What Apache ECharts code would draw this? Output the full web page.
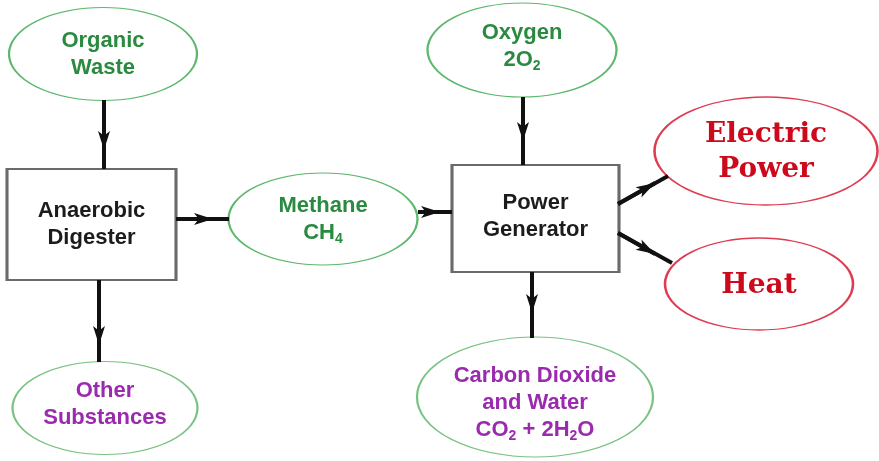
<!DOCTYPE html>
<html>
<head>
<meta charset="UTF-8">
<title>Anaerobic Digester</title>
<style>
  * { margin: 0; padding: 0; }
  html, body { width: 100%; height: 100%; background: #fff; }
  #chart { width: 879px; height: 461px; }
</style>
<script src="https://cdn.jsdelivr.net/npm/echarts@6/dist/echarts.min.js"></script>
</head>
<body>
<div id="chart"></div>
<script>
// diagram content
var nodeNames = ['Organic Waste', 'Anaerobic Digester', 'Other Substances', 'Methane', 'Oxygen',
  'Power Generator', 'Carbon Dioxide and Water', 'Electric Power', 'Heat'];
var nodeText = ['Organic\nWaste', 'Anaerobic\nDigester', 'Other\nSubstances', 'Methane\nCH{s|4}', 'Oxygen\n2O{s|2}',
  'Power\nGenerator', 'Carbon Dioxide\nand Water\nCO{s|2} + 2H{s|2}O', 'Electric\nPower', 'Heat'];
var nodeKind = ['input', 'process', 'byproduct', 'input', 'input', 'process', 'byproduct', 'output', 'output'];
var linkFrom = ['Organic Waste', 'Anaerobic Digester', 'Anaerobic Digester', 'Methane', 'Oxygen',
  'Power Generator', 'Power Generator', 'Power Generator'];
var linkTo = ['Anaerobic Digester', 'Other Substances', 'Methane', 'Power Generator', 'Power Generator',
  'Carbon Dioxide and Water', 'Electric Power', 'Heat'];

// layout (diagram units = pixels of the 879x461 canvas)
var nodeX = [103, 91.5, 105, 323, 522, 535.5, 535, 766, 759];
var nodeY = [54, 224.5, 408, 219, 50, 218.5, 397, 151, 284];
var nodeW = [188, 169, 185, 189, 189, 167, 236, 223, 188];
var nodeH = [93, 111, 93, 92, 94, 107, 120, 108, 92];
var labelDy = [0, 0, -4, 0, -4, -2, 6, 1, 2];
var arrowStart = [[104, 100], [99, 280], [176, 219], [418, 212], [523, 97], [532, 272], [618, 204], [618, 233]];
var arrowEnd = [[104, 169], [99, 362], [229, 219], [452, 212], [523, 165], [532, 338], [668, 176], [672, 263]];
var arrowHead = [[104, 150], [99, 345], [213, 219], [440, 212], [523, 141], [532, 313], [655, 183], [655, 254]];

var ellipse = 'path://M0,50A100,50 0 1,1 200,50A100,50 0 1,1 0,50Z';
var sans = '"Liberation Sans", Arial, sans-serif';
var kindStyle = {
  input: { symbol: ellipse, border: '#5cb86c', bw: 1.6, color: '#2a8a40', font: sans, size: 22 },
  byproduct: { symbol: ellipse, border: '#78c282', bw: 1.6, color: '#9a2aae', font: sans, size: 22 },
  process: { symbol: 'rect', border: '#6a6a6a', bw: 2.5, color: '#1c1c1c', font: sans, size: 22 },
  output: { symbol: ellipse, border: '#de3c52', bw: 1.8, color: '#cc0a1c', font: '"DejaVu Serif", "Liberation Serif", serif', size: 28 }
};

var nodes = nodeNames.map(function (name, i) {
  var k = kindStyle[nodeKind[i]];
  return {
    name: name,
    value: [nodeX[i], nodeY[i]],
    symbol: k.symbol,
    symbolSize: [nodeW[i], nodeH[i]],
    itemStyle: { color: '#ffffff', borderColor: k.border, borderWidth: k.bw, opacity: 1 },
    label: {
      formatter: nodeText[i],
      color: k.color,
      fontFamily: k.font,
      fontSize: k.size,
      lineHeight: k.size === 28 ? 35 : 27,
      offset: [0, labelDy[i]],
      rich: {
        s: { fontSize: 14, fontWeight: 'bold', fontFamily: k.font, color: k.color, lineHeight: 14, verticalAlign: 'bottom' }
      }
    }
  };
});

var chart = echarts.init(document.getElementById('chart'));
chart.setOption({
  animation: false,
  backgroundColor: '#ffffff',
  grid: { left: 0, right: 0, top: 0, bottom: 0 },
  xAxis: { type: 'value', min: 0, max: 879, show: false },
  yAxis: { type: 'value', min: 0, max: 461, inverse: true, show: false },
  series: [
    {
      type: 'scatter',
      z: 2,
      clip: false,
      silent: true,
      itemStyle: { opacity: 1 },
      label: { show: true, position: 'inside', fontWeight: 'bold' },
      emphasis: { disabled: true },
      data: nodes
    },
    {
      type: 'lines',
      coordinateSystem: 'cartesian2d',
      z: 3,
      clip: false,
      silent: true,
      symbol: 'none',
      lineStyle: { color: '#111111', width: 4, opacity: 1 },
      data: linkFrom.map(function (f, i) {
        return { name: f + ' > ' + linkTo[i], coords: [arrowStart[i], arrowEnd[i]] };
      })
    },
    {
      type: 'lines',
      coordinateSystem: 'cartesian2d',
      z: 4,
      clip: false,
      silent: true,
      symbol: ['none', 'arrow'],
      symbolSize: [[9, 19], [9, 19]],
      lineStyle: { color: '#111111', width: 4, opacity: 1 },
      data: linkFrom.map(function (f, i) {
        return { name: f + ' > ' + linkTo[i], coords: [arrowStart[i], arrowHead[i]] };
      })
    }
  ]
});
</script>
</body>
</html>
